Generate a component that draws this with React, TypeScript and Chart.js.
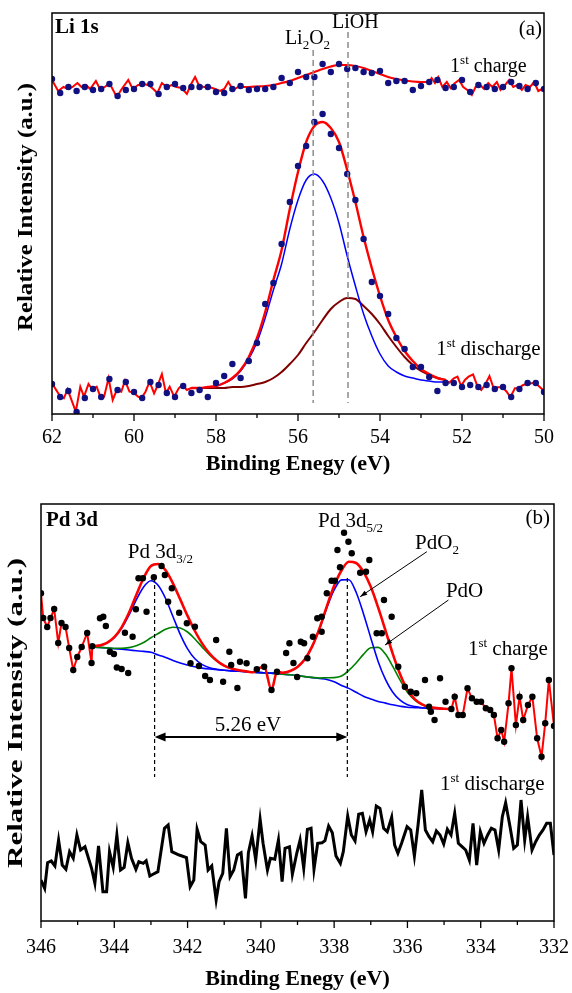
import React, { useEffect, useRef } from 'react';
import { Chart, registerables } from 'chart.js';

Chart.register(...registerables);

const FONT = '"Liberation Serif", "Times New Roman", Times, serif';
const RED = '#ff0000';
const BLUE = '#0000ff';
const GREEN = '#008000';
const BROWN = '#800000';
const NAVY = '#101080';
const Y_TITLE = 'Relative Intensity (a.u.)';
const X_TITLE = 'Binding Enegy (eV)';

// ---------------- Panel (a): Li 1s ----------------
const liMajorTicks = [62, 60, 58, 56, 54, 52, 50];
const liMinorTicks = [61, 59, 57, 55, 53, 51];
const liRefLines = [55.63, 54.78]; // Li2O2, LiOH
const liRefTop = [364, 382];
const liRefBottom = 11;

const liDotE = [
  62, 61.8, 61.6, 61.4, 61.2, 61, 60.8, 60.6, 60.4, 60.2,
  60, 59.8, 59.6, 59.4, 59.2, 59, 58.8, 58.6, 58.4, 58.2,
  58, 57.8, 57.6, 57.4, 57.2, 57, 56.8, 56.6, 56.4, 56.2,
  56, 55.8, 55.6, 55.4, 55.2, 55, 54.8, 54.6, 54.4, 54.2,
  54, 53.8, 53.6, 53.4, 53.2, 53, 52.8, 52.6, 52.4, 52.2,
  52, 51.8, 51.6, 51.4, 51.2, 51, 50.8, 50.6, 50.4, 50.2,
  50,
];
const liChargeDots = [
  335, 321, 327, 323, 327, 324, 325, 330, 318, 324,
  325, 330, 330, 320, 327, 330, 326, 327, 327, 327,
  322, 321, 325, 328, 324, 325, 325, 327, 336, 331,
  342, 337, 337, 350, 342, 350, 345, 346, 342, 341,
  343, 331, 333, 333, 324, 328, 332, 334, 326, 327,
  334, 322, 329, 327, 325, 327, 332, 328, 325, 331,
  325,
];
const liDischargeDots = [
  30, 17, 23, 2, 16, 25, 17, 35, 24, 32,
  22, 16, 32, 29, 21, 17, 28, 21, 24, 17,
  31, 38, 50, 36, 53, 71, 110, 131, 170, 212,
  248, 268, 292, 300, 280, 266, 240, 214, 175, 132,
  118, 100, 76, 65, 47, 47, 37, 23, 31, 31,
  27, 29, 27, 29, 25, 27, 17, 25, 31, 31,
  22,
];

const liChargeNoiseLeftE = [
  62.0, 61.85, 61.72, 61.6, 61.5, 61.38, 61.28, 61.17, 61.07, 60.93,
  60.83, 60.71, 60.6, 60.42, 60.3, 60.14, 60.03, 59.9, 59.77, 59.65,
  59.53, 59.43, 59.32, 59.2, 59.08, 58.96, 58.84, 58.71, 58.62, 58.51,
  58.41, 58.29, 58.16, 58.02, 57.9, 57.8, 57.7, 57.58, 57.46, 57.4,
];
const liChargeNoiseLeftI = [
  334, 323, 327, 325, 327, 331, 327, 329, 325, 333,
  325, 327, 331, 317, 325, 334, 325, 329, 330, 329,
  325, 321, 331, 327, 329, 327, 326, 320, 329, 337,
  328, 327, 327, 325, 323, 325, 332, 324, 327, 327,
];
const liChargeFitE = [
  57.4, 57.2, 57, 56.8, 56.6, 56.4, 56.2, 56, 55.8, 55.6,
  55.4, 55.2, 55, 54.8, 54.6, 54.4, 54.2, 54, 53.8, 53.6,
  53.4, 53.2, 53, 52.8,
];
const liChargeFit = [
  327, 327, 327.5, 328, 329, 331, 333, 336, 339, 342,
  345, 347.5, 349, 349, 348, 346, 343, 340, 337, 335,
  333.5, 332.5, 332, 332,
];
const liChargeNoiseRightE = [
  52.8, 52.74, 52.66, 52.58, 52.48, 52.37, 52.28, 52.17, 52.07, 51.97,
  51.87, 51.76, 51.67, 51.56, 51.46, 51.36, 51.26, 51.15, 51.06, 50.95,
  50.85, 50.75, 50.65, 50.54, 50.45, 50.34, 50.24, 50.14, 50.0,
];
const liChargeNoiseRightI = [
  332, 336, 331, 337, 327, 332, 326, 331, 334, 327,
  324, 319, 327, 329, 325, 331, 327, 332, 324, 329,
  334, 327, 329, 324, 329, 327, 332, 323, 326,
];

const liDisNoiseLeftE = [
  62.0, 61.82, 61.71, 61.62, 61.42, 61.31, 61.22, 61.11, 61.02, 60.91,
  60.82, 60.73, 60.62, 60.52, 60.42, 60.31, 60.22, 60.11, 60.02, 59.9,
  59.82, 59.72, 59.62, 59.51, 59.42, 59.32, 59.22, 59.13, 59.02, 58.91,
  58.82, 58.71, 58.6,
];
const liDisNoiseLeftI = [
  30.7, 19, 15.7, 24.7, 2.3, 27.3, 17.3, 30, 24.7, 27.3,
  17.3, 17.3, 35.7, 14, 24, 22.3, 33.3, 22.3, 21.7, 17.3,
  15.7, 22.3, 32.3, 20.7, 29, 40, 20.7, 27.3, 17.3, 25.7,
  29, 24, 26,
];
const liDisFitE = [
  58.6, 58.4, 58.2, 58, 57.8, 57.6, 57.4, 57.2, 57, 56.8,
  56.6, 56.4, 56.2, 56, 55.8, 55.6, 55.4, 55.2, 55, 54.8,
  54.6, 54.4, 54.2, 54, 53.8, 53.6, 53.4, 53.2, 53, 52.8,
  52.6, 52.4,
];
const liDisEnvelope = [
  26, 26, 27, 28, 31, 36, 44, 57, 76, 102,
  134, 164, 205, 242, 272, 288, 292, 286, 272, 244,
  212, 177, 146, 118, 94, 77, 63, 53, 45, 40,
  36, 34,
];
const liDisLi2O2 = [
  26, 26, 27, 28, 31, 35, 43, 55, 72, 96,
  124, 150, 185, 214, 234, 240, 233, 216, 191, 158,
  128, 100, 78, 60, 48, 42, 38, 36, 34, 33,
  32, 32,
];
const liDisLiOH = [
  26, 26, 26, 26, 26, 27, 27, 28, 30, 32,
  36, 42, 50, 59, 71, 82, 94, 105, 112, 116,
  115, 108, 100, 90, 78, 67, 57, 49, 43, 39,
  36, 34,
];
const liDisNoiseRightE = [
  52.4, 52.31, 52.2, 52.11, 52.02, 51.93, 51.84, 51.73, 51.62, 51.53,
  51.44, 51.33, 51.22, 51.13, 51.01, 50.91, 50.82, 50.71, 50.62, 50.51,
  50.42, 50.31, 50.22, 50.11, 50.0,
];
const liDisNoiseRightI = [
  34, 31.3, 35.7, 37.3, 28, 34, 37.3, 39.7, 27.3, 24,
  29, 38, 24.7, 26.7, 26.7, 22.3, 16.7, 25.7, 25.7, 29,
  30, 30.7, 31.3, 27.3, 23,
];

// ---------------- Panel (b): Pd 3d ----------------
const pdMajorTicks = [346, 344, 342, 340, 338, 336, 334, 332];
const pdMinorTicks = [345, 343, 341, 339, 337, 335, 333];
const pdRefLines = [342.9, 337.64]; // Pd 3d3/2, Pd 3d5/2
const pdRefTop = 343;
const pdRefBottom = 144;
const pdSplitLevel = 184;

const pdNoiseLeftE = [
  346.0, 345.94, 345.83, 345.74, 345.64, 345.53, 345.44, 345.33, 345.23, 345.12,
  345.01, 344.89, 344.74, 344.62, 344.6,
];
const pdNoiseLeftI = [
  327.7, 303, 294, 303, 312, 278, 298, 294, 273, 251,
  264, 274, 288, 258, 274.7,
];
const pdNoiseRightE = [
  334.8, 334.71, 334.61, 334.49, 334.36, 334.24, 334.11, 333.99, 333.86, 333.74,
  333.64, 333.54, 333.44, 333.36, 333.24, 333.16, 333.04, 332.94, 332.84, 332.71,
  332.59, 332.46, 332.34, 332.24, 332.14, 332.0,
];
const pdNoiseRightI = [
  212, 224.3, 206, 206, 232.7, 222.7, 219.3, 219.3, 212.7, 211,
  206, 182.7, 191, 179.3, 217.7, 252.7, 196, 224.3, 201, 216,
  224.3, 182.7, 164.3, 197.7, 241, 195,
];

const pdFitE = [
  344.6, 344.4, 344.2, 344.0, 343.8, 343.6, 343.4, 343.2, 343.0, 342.8,
  342.6, 342.4, 342.2, 342.0, 341.8, 341.6, 341.4, 341.2, 341.0, 340.8,
  340.6, 340.4, 340.2, 340.0, 339.8, 339.6, 339.4, 339.2, 339.0, 338.8,
  338.6, 338.4, 338.2, 338.0, 337.8, 337.6, 337.4, 337.2, 337.0, 336.8,
  336.6, 336.4, 336.2, 336.0, 335.8, 335.6, 335.4, 335.2, 335.0, 334.8,
];
const pdBackground = [
  274, 273.6, 273, 272.3, 271.7, 271, 270.3, 269.6, 268.7, 266,
  263.5, 260.6, 258, 256, 254.2, 252.9, 252, 251.3, 250.7, 250.1,
  249.7, 249.2, 248.8, 248.4, 247.9, 247.4, 246.8, 246.2, 245.4, 244.4,
  243.4, 242.5, 241.5, 239.2, 235.6, 232.6, 228.7, 224.8, 222.1, 219.6,
  217.9, 216.2, 214.8, 213.7, 213.4, 213, 212.7, 212.5, 212.2, 212,
];
const pdPdO2 = [
  274.7, 275.6, 278.1, 283.4, 292.7, 305.8, 321.1, 334.1, 340.3, 335.5,
  322.5, 304.5, 286.6, 272.1, 262.2, 256.4, 253.3, 251.7, 250.7, 250.1,
  249.7, 249.2, 248.8, 248.4, 247.9, 248, 248.3, 250, 254.1, 261.7,
  274.4, 292.1, 313, 331, 341.1, 341.3, 328.7, 307.3, 283.1, 259.6,
  241.7, 228.8, 220.8, 216.2, 214.4, 213.3, 212.7, 212.5, 212.2, 212,
];
const pdPdO = [
  274, 273.6, 273.1, 272.7, 272.7, 273.4, 275.2, 278.5, 283.3, 287.5,
  291.7, 293.8, 293, 289, 282, 273.9, 266.2, 259.9, 255.3, 252.4,
  250.7, 249.6, 248.8, 248.4, 247.9, 247.4, 246.8, 246.2, 245.4, 244.4,
  243.6, 243, 243.2, 243.4, 245, 250.6, 258, 266.6, 273.2, 273.6,
  266.9, 254.6, 240.8, 228.7, 220.9, 216.3, 213.9, 212.9, 212.2, 212,
];
const pdEnvelopeE = [
  344.6, 344.4, 344.2, 344.0, 343.8, 343.6, 343.4, 343.2, 343.0, 342.8,
  342.6, 342.4, 342.2, 342.0, 341.8, 341.6, 341.4, 341.2, 341.0, 340.8,
  340.6, 340.4, 340.2, 340.11, 339.91, 339.71, 339.56, 339.4, 339.2, 339.0,
  338.8, 338.6, 338.4, 338.2, 338.0, 337.8, 337.6, 337.4, 337.2, 337.0,
  336.8, 336.6, 336.4, 336.2, 336.0, 335.8, 335.6, 335.4, 335.2, 335.0,
  334.8,
];
const pdEnvelopeI = [
  274.7, 275.6, 278.2, 283.8, 293.7, 308.2, 326, 343, 354.9, 357,
  350.7, 337.7, 321.6, 305.1, 290, 277.4, 267.5, 260.3, 255.3, 252.4,
  250.7, 249.6, 248.8, 251.7, 254.3, 231, 249.3, 248.3, 250, 254.1,
  261.7, 274.6, 292.6, 314.7, 335.2, 350.5, 359.3, 358, 349.1, 334.2,
  313.6, 290.7, 267.2, 246.8, 231.2, 221.9, 216.6, 213.9, 212.9, 212.2,
  212,
];
const pdDotsE = [
  344.39, 344.3, 344.23, 344.12, 344.01, 343.93, 343.8, 343.62, 343.71, 343.5,
  343.41, 343.34, 343.22, 343.12, 342.92, 342.71, 342.62, 342.53, 342.43, 342.23,
  342.02, 341.92, 341.8, 341.69, 341.52, 341.39, 341.22, 341.03, 340.86, 340.81,
  340.64, 340.57, 340.39, 340.11, 339.91, 339.71, 339.56, 339.31, 339.22, 339.11,
  339.01, 338.91, 338.82, 338.73, 338.58, 338.46, 338.34, 338.34, 338.2, 338.07,
  337.98, 337.91, 337.84, 337.73, 337.61, 337.52, 337.29, 337.13, 337.04, 336.84,
  336.7, 336.64, 336.43, 336.25, 336.07, 335.91, 335.76, 335.52, 335.41, 335.36,
  335.26, 335.11, 334.96,
];
const pdDotsI = [
  302.7, 304.3, 295, 269.3, 267, 253.5, 252, 248, 288.3, 284.3,
  311.7, 342.7, 342.7, 309.3, 343.7, 355, 346, 319.3, 332.7, 308.3,
  297.7, 257.7, 294.3, 255, 245, 241, 281, 239.3, 269.3, 256,
  233, 259.3, 257.7, 251.7, 254.3, 231, 249.3, 268, 277.7, 258,
  244, 279.3, 277.7, 262.7, 284.3, 302.7, 304.3, 289.3, 327.7, 340.3,
  340.3, 371, 353.7, 388.3, 379.3, 367.7, 348.3, 349.3, 361, 287.7,
  287.7, 321, 304.3, 254.3, 234.3, 229.3, 227.7, 241, 214.3, 209.3,
  201, 242.7, 219.3,
];

const pdDischargeE = [
  346.0, 345.9, 345.82, 345.72, 345.62, 345.52, 345.42, 345.32, 345.22, 345.12,
  345.02, 344.92, 344.8, 344.62, 344.53, 344.43, 344.31, 344.21, 344.13, 344.03,
  343.93, 343.83, 343.73, 343.63, 343.53, 343.41, 343.33, 343.21, 343.13, 343.03,
  342.93, 342.81, 342.63, 342.53, 342.43, 342.23, 342.03, 341.93, 341.83, 341.74,
  341.64, 341.52, 341.44, 341.34, 341.22, 341.14, 341.04, 340.94, 340.84, 340.74,
  340.64, 340.54, 340.42, 340.34, 340.24, 340.14, 340.02, 339.94, 339.82, 339.74,
  339.62, 339.52, 339.42, 339.34, 339.22, 339.14, 339.02, 338.93, 338.83, 338.73,
  338.63, 338.55, 338.45, 338.33, 338.25, 338.15, 338.05, 337.95, 337.83, 337.75,
  337.63, 337.53, 337.43, 337.33, 337.23, 337.13, 337.03, 336.95, 336.85, 336.75,
  336.65, 336.55, 336.43, 336.35, 336.26, 336.16, 336.01, 335.91, 335.81, 335.71,
  335.61, 335.51, 335.41, 335.31, 335.21, 335.11, 335.01, 334.91, 334.81, 334.71,
  334.61, 334.51, 334.41, 334.31, 334.21, 334.11, 334.01, 333.91, 333.81, 333.71,
  333.61, 333.51, 333.41, 333.32, 333.2, 333.1, 333.0, 332.9, 332.8, 332.72,
  332.6, 332.5, 332.4, 332.3, 332.2, 332.1, 332.0,
];
const pdDischargeI = [
  41, 32.7, 58.3, 60, 55, 81, 56, 51.7, 69.3, 62.7,
  86, 71, 74.3, 52.7, 37.7, 75, 29.3, 29.3, 69.3, 53.7,
  86, 51, 53.7, 78.3, 62.7, 51.7, 59.3, 57.7, 60.3, 45,
  47, 49.3, 92.7, 96, 69.3, 66, 63.3, 34.3, 41, 91.7,
  79.3, 76, 51, 55, 21, 39.3, 47.7, 92.7, 44.3, 51,
  66, 68.3, 22.7, 68.3, 85, 61, 101.7, 77.7, 51, 62.7,
  61.7, 81, 39.3, 72.7, 74.3, 46.7, 67.7, 81, 52.7, 91.7,
  92.7, 51.7, 77.7, 78.3, 80.3, 95, 88.3, 65, 57.7, 69.3,
  105, 86, 80, 106.7, 107.7, 89.3, 101, 89.3, 115, 112.7,
  92.7, 89.3, 103.7, 76, 67.7, 77.7, 94.3, 91, 65, 96,
  131, 91, 84.3, 79.3, 90, 86, 77, 91.7, 86, 107.7,
  77.7, 74.3, 71, 61, 97.7, 56, 89.3, 77.7, 86, 92.7,
  91, 71, 104.3, 118.3, 94.3, 72.7, 76, 121, 81, 104.3,
  71, 79.3, 86, 91, 97.7, 97.7, 66,
];

// ---------------- helpers ----------------
const pts = (xs: number[], ys: number[]) => xs.map((x, i) => ({ x, y: ys[i] }));

type Part = { t: string; s: number; dy?: number; b?: boolean };

function drawParts(
  ctx: CanvasRenderingContext2D,
  x: number,
  y: number,
  parts: Part[],
  align: 'left' | 'center' | 'right' = 'left'
) {
  ctx.save();
  ctx.fillStyle = '#000';
  ctx.textBaseline = 'alphabetic';
  ctx.textAlign = 'left';
  const widths = parts.map((p) => {
    ctx.font = `${p.b ? 'bold ' : ''}${p.s}px ${FONT}`;
    return ctx.measureText(p.t).width;
  });
  const total = widths.reduce((a, b) => a + b, 0);
  let cx = align === 'center' ? x - total / 2 : align === 'right' ? x - total : x;
  parts.forEach((p, i) => {
    ctx.font = `${p.b ? 'bold ' : ''}${p.s}px ${FONT}`;
    ctx.fillText(p.t, cx, y + (p.dy || 0));
    cx += widths[i];
  });
  ctx.restore();
}

// vertical axis title, drawn rotated and fitted to the span it has in the figure
function drawYTitle(ctx: CanvasRenderingContext2D, cx: number, cy: number, span: number, size: number) {
  ctx.save();
  ctx.font = `bold ${size}px ${FONT}`;
  const w = ctx.measureText(Y_TITLE).width;
  ctx.translate(cx, cy);
  ctx.rotate(-Math.PI / 2);
  ctx.scale(span / w, 1);
  ctx.fillStyle = '#000';
  ctx.textAlign = 'center';
  ctx.textBaseline = 'middle';
  ctx.fillText(Y_TITLE, 0, 0);
  ctx.restore();
}

function arrowHead(ctx: CanvasRenderingContext2D, x1: number, y1: number, x2: number, y2: number, len: number, hw: number) {
  const a = Math.atan2(y2 - y1, x2 - x1);
  const bx = x2 - len * Math.cos(a);
  const by = y2 - len * Math.sin(a);
  ctx.beginPath();
  ctx.moveTo(x2, y2);
  ctx.lineTo(bx + hw * Math.sin(a), by - hw * Math.cos(a));
  ctx.lineTo(bx - hw * Math.sin(a), by + hw * Math.cos(a));
  ctx.closePath();
  ctx.fill();
}

function drawFrame(chart: any, major: number[], minor: number[]) {
  const { ctx, chartArea: a, scales } = chart;
  const x = scales.x;
  ctx.save();
  ctx.strokeStyle = '#000';
  ctx.lineWidth = 1.5;
  ctx.strokeRect(a.left, a.top, a.right - a.left, a.bottom - a.top);
  ctx.lineWidth = 1.3;
  major.forEach((v) => {
    const px = x.getPixelForValue(v);
    ctx.beginPath();
    ctx.moveTo(px, a.bottom);
    ctx.lineTo(px, a.bottom + 7);
    ctx.stroke();
  });
  minor.forEach((v) => {
    const px = x.getPixelForValue(v);
    ctx.beginPath();
    ctx.moveTo(px, a.bottom);
    ctx.lineTo(px, a.bottom + 4);
    ctx.stroke();
  });
  ctx.restore();
}

const sup = (t: string): Part => ({ t, s: 13, dy: -8 });
const sub = (t: string): Part => ({ t, s: 13, dy: 5 });

const panelAPlugin = {
  id: 'panelA',
  afterDatasetsDraw(chart: any) {
    const { ctx, scales } = chart;
    const x = scales.x;
    const y = scales.y;
    ctx.save();
    ctx.strokeStyle = '#8c8c8c';
    ctx.lineWidth = 1.5;
    ctx.setLineDash([6, 4]);
    liRefLines.forEach((E, i) => {
      const px = x.getPixelForValue(E);
      ctx.beginPath();
      ctx.moveTo(px, y.getPixelForValue(liRefTop[i]));
      ctx.lineTo(px, y.getPixelForValue(liRefBottom));
      ctx.stroke();
    });
    ctx.restore();
  },
  afterDraw(chart: any) {
    const { ctx, chartArea: a, scales } = chart;
    const x = scales.x;
    const y = scales.y;
    drawFrame(chart, liMajorTicks, liMinorTicks);
    drawYTitle(ctx, 27, 207, 248, 21);
    drawParts(ctx, a.left + 3, a.top + 20, [{ t: 'Li 1s', s: 21, b: true }]);
    drawParts(ctx, a.right - 2, a.top + 22, [{ t: '(a)', s: 21 }], 'right');
    drawParts(ctx, x.getPixelForValue(56.32), y.getPixelForValue(370), [
      { t: 'Li', s: 20 }, sub('2'), { t: 'O', s: 20 }, sub('2'),
    ]);
    drawParts(ctx, x.getPixelForValue(55.17), y.getPixelForValue(386), [{ t: 'LiOH', s: 20 }]);
    drawParts(ctx, x.getPixelForValue(52.29), y.getPixelForValue(342), [
      { t: '1', s: 20 }, sup('st'), { t: ' charge', s: 20 },
    ]);
    drawParts(ctx, x.getPixelForValue(52.63), y.getPixelForValue(59), [
      { t: '1', s: 21 }, sup('st'), { t: ' discharge', s: 21 },
    ]);
  },
};

const panelBPlugin = {
  id: 'panelB',
  afterDatasetsDraw(chart: any) {
    const { ctx, scales } = chart;
    const x = scales.x;
    const y = scales.y;
    ctx.save();
    ctx.strokeStyle = '#000';
    ctx.fillStyle = '#000';
    ctx.lineWidth = 1.2;
    ctx.setLineDash([4, 3]);
    pdRefLines.forEach((E) => {
      const px = x.getPixelForValue(E);
      ctx.beginPath();
      ctx.moveTo(px, y.getPixelForValue(pdRefTop));
      ctx.lineTo(px, y.getPixelForValue(pdRefBottom));
      ctx.stroke();
    });
    ctx.setLineDash([]);
    // double arrow 5.26 eV
    const x1 = x.getPixelForValue(pdRefLines[0]);
    const x2 = x.getPixelForValue(pdRefLines[1]);
    const ya = y.getPixelForValue(pdSplitLevel);
    ctx.lineWidth = 2;
    ctx.beginPath();
    ctx.moveTo(x1 + 6, ya);
    ctx.lineTo(x2 - 6, ya);
    ctx.stroke();
    arrowHead(ctx, x2, ya, x1, ya, 11, 4.5);
    arrowHead(ctx, x1, ya, x2, ya, 11, 4.5);
    // pointer arrows
    ctx.lineWidth = 1;
    const arrows = [
      [335.47, 369.3, 337.29, 324.3],
      [334.88, 321, 336.61, 276],
    ];
    arrows.forEach(([e1, v1, e2, v2]) => {
      const ax = x.getPixelForValue(e1);
      const ay = y.getPixelForValue(v1);
      const bx = x.getPixelForValue(e2);
      const by = y.getPixelForValue(v2);
      ctx.beginPath();
      ctx.moveTo(ax, ay);
      ctx.lineTo(bx, by);
      ctx.stroke();
      arrowHead(ctx, ax, ay, bx, by, 7, 2.5);
    });
    ctx.restore();
  },
  afterDraw(chart: any) {
    const { ctx, chartArea: a, scales } = chart;
    const x = scales.x;
    const y = scales.y;
    drawFrame(chart, pdMajorTicks, pdMinorTicks);
    drawYTitle(ctx, 17, 223, 310, 21);
    drawParts(ctx, a.left + 5, a.top + 22, [{ t: 'Pd 3d', s: 21, b: true }]);
    drawParts(ctx, a.right - 4, a.top + 20, [{ t: '(b)', s: 21 }], 'right');
    drawParts(ctx, x.getPixelForValue(343.63), y.getPixelForValue(363), [{ t: 'Pd 3d', s: 21 }, sub('3/2')]);
    drawParts(ctx, x.getPixelForValue(338.44), y.getPixelForValue(394), [{ t: 'Pd 3d', s: 21 }, sub('5/2')]);
    drawParts(ctx, x.getPixelForValue(335.79), y.getPixelForValue(372), [{ t: 'PdO', s: 21 }, sub('2')]);
    drawParts(ctx, x.getPixelForValue(334.95), y.getPixelForValue(324), [{ t: 'PdO', s: 21 }]);
    drawParts(ctx, x.getPixelForValue(340.35), y.getPixelForValue(190), [{ t: '5.26 eV', s: 21 }], 'center');
    drawParts(ctx, x.getPixelForValue(334.35), y.getPixelForValue(266), [
      { t: '1', s: 21 }, sup('st'), { t: ' charge', s: 21 },
    ]);
    drawParts(ctx, x.getPixelForValue(335.11), y.getPixelForValue(131), [
      { t: '1', s: 21 }, sup('st'), { t: ' discharge', s: 21 },
    ]);
  },
};

function xScale(min: number, max: number, height: number, tickPad: number, titlePad: number) {
  return {
    type: 'linear' as const,
    reverse: true,
    min,
    max,
    afterFit: (s: any) => {
      s.height = height;
      s.paddingLeft = 0;
      s.paddingRight = 0;
    },
    grid: { display: false, drawTicks: false },
    border: { display: false },
    ticks: { stepSize: 2, padding: tickPad, color: '#000', font: { family: FONT, size: 20 } },
    title: {
      display: true,
      text: X_TITLE,
      color: '#000',
      font: { family: FONT, size: 22, weight: 'bold' as const },
      padding: { top: 0, bottom: titlePad },
    },
  };
}

function yScale(max: number, width: number) {
  return {
    type: 'linear' as const,
    min: 0,
    max,
    afterFit: (s: any) => {
      s.width = width;
      s.paddingTop = 0;
      s.paddingBottom = 0;
    },
    grid: { display: false, drawTicks: false },
    border: { display: false },
    ticks: { display: false },
    title: { display: false },
  };
}

const lineDs = (data: any[], color: string, width: number, smooth: boolean, order: number) => ({
  data,
  borderColor: color,
  backgroundColor: color,
  borderWidth: width,
  pointRadius: 0,
  fill: false,
  tension: 0,
  cubicInterpolationMode: smooth ? ('monotone' as const) : ('default' as const),
  order,
});

const dotDs = (data: any[], color: string, order: number) => ({
  data,
  showLine: false,
  pointRadius: 3.2,
  pointBackgroundColor: color,
  pointBorderColor: color,
  pointBorderWidth: 0,
  order,
});

export default function App() {
  const refA = useRef<HTMLCanvasElement>(null);
  const refB = useRef<HTMLCanvasElement>(null);

  useEffect(() => {
    const chartA = new Chart(refA.current as HTMLCanvasElement, {
      type: 'line',
      data: {
        datasets: [
          dotDs(pts(liDotE, liChargeDots), NAVY, 0),
          dotDs(pts(liDotE, liDischargeDots), NAVY, 0),
          lineDs(pts(liChargeNoiseLeftE, liChargeNoiseLeftI), RED, 2, false, 1),
          lineDs(pts(liChargeFitE, liChargeFit), RED, 2.2, true, 1),
          lineDs(pts(liChargeNoiseRightE, liChargeNoiseRightI), RED, 2, false, 1),
          lineDs(pts(liDisNoiseLeftE, liDisNoiseLeftI), RED, 2, false, 1),
          lineDs(pts(liDisFitE, liDisEnvelope), RED, 2.4, true, 1),
          lineDs(pts(liDisNoiseRightE, liDisNoiseRightI), RED, 2, false, 1),
          lineDs(pts(liDisFitE, liDisLi2O2), BLUE, 1.5, true, 2),
          lineDs(pts(liDisFitE, liDisLiOH), BROWN, 2, true, 2),
        ] as any,
      },
      options: {
        animation: false,
        responsive: false,
        events: [],
        layout: { padding: { left: 0, right: 28, top: 13, bottom: 0 } },
        plugins: { legend: { display: false }, tooltip: { enabled: false } },
        scales: {
          x: xScale(50, 62, 66, 12, 2.4),
          y: yScale(401, 52),
        } as any,
      },
      plugins: [panelAPlugin],
    });

    const chartB = new Chart(refB.current as HTMLCanvasElement, {
      type: 'line',
      data: {
        datasets: [
          dotDs(pts(pdDotsE, pdDotsI), '#000', 0),
          {
            ...lineDs(pts(pdNoiseLeftE, pdNoiseLeftI), RED, 2, false, 1),
            pointRadius: 3.2,
            pointBackgroundColor: '#000',
            pointBorderColor: '#000',
            pointBorderWidth: 0,
          },
          {
            ...lineDs(pts(pdNoiseRightE, pdNoiseRightI), RED, 2, false, 1),
            pointRadius: 3.2,
            pointBackgroundColor: '#000',
            pointBorderColor: '#000',
            pointBorderWidth: 0,
          },
          lineDs(pts(pdEnvelopeE, pdEnvelopeI), RED, 2.6, true, 1),
          lineDs(pts(pdFitE, pdPdO2), BLUE, 1.6, true, 2),
          lineDs(pts(pdFitE, pdPdO), GREEN, 1.6, true, 2),
          lineDs(pts(pdFitE, pdBackground), BLUE, 1.6, true, 3),
          lineDs(pts(pdDischargeE, pdDischargeI), '#000', 3, false, 3),
        ] as any,
      },
      options: {
        animation: false,
        responsive: false,
        events: [],
        layout: { padding: { left: 0, right: 18, top: 14, bottom: 0 } },
        plugins: { legend: { display: false }, tooltip: { enabled: false } },
        scales: {
          x: xScale(332, 346, 72, 15, 0.4),
          y: yScale(417, 41),
        } as any,
      },
      plugins: [panelBPlugin],
    });

    return () => {
      chartA.destroy();
      chartB.destroy();
    };
  }, []);

  return (
    <div style={{ position: 'absolute', left: 0, top: 0, width: 572, height: 993, background: '#fff' }}>
      <canvas
        ref={refA}
        width={572}
        height={480}
        style={{ position: 'absolute', left: 0, top: 0, width: 572, height: 480 }}
      />
      <canvas
        ref={refB}
        width={572}
        height={503}
        style={{ position: 'absolute', left: 0, top: 490, width: 572, height: 503 }}
      />
    </div>
  );
}
